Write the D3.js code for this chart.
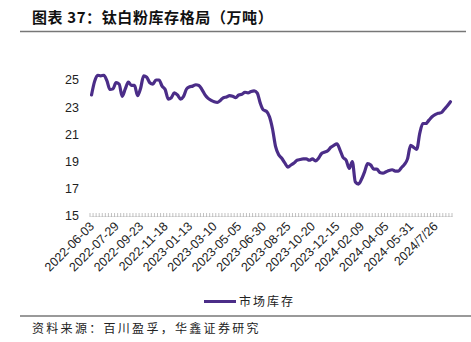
<!DOCTYPE html>
<html><head><meta charset="utf-8">
<script src="https://cdn.jsdelivr.net/npm/d3@7"></script>
<style>
html,body{margin:0;padding:0;background:#fff;}
svg{display:block;}
</style>
</head><body>
<svg id="c" width="471" height="342"></svg>
<script>
const title = "图表 37：钛白粉库存格局（万吨）";
const source = "资料来源：百川盈孚，华鑫证券研究";
const seriesName = "市场库存";
const startDate = "2022-06-03";
const weekCount = 118;
const tickLabels = ["2022-06-03","2022-07-29","2022-09-23","2022-11-18","2023-01-13","2023-03-10","2023-05-05","2023-06-30","2023-08-25","2023-10-20","2023-12-15","2024-02-09","2024-04-05","2024-05-31","2024/7/26"];
const yTicks = [15,17,19,21,23,25];
const inventory = [
23.9,24.9,25.35,25.3,25.35,24.95,24.3,24.35,24.8,24.7,
23.8,24.35,24.85,24.6,24.6,23.85,24.4,25.3,25.2,24.8,
24.7,25.0,25.0,24.55,24.3,23.6,23.7,24.05,23.9,23.6,
23.8,24.35,24.5,24.55,24.65,24.6,24.3,23.9,23.65,23.5,
23.4,23.35,23.5,23.7,23.75,23.85,23.8,23.7,23.9,23.95,
24.1,24.05,24.15,24.2,24.05,23.3,22.8,22.7,22.3,21.4,
20.1,19.5,19.25,18.9,18.6,18.75,18.9,19.1,19.15,19.2,
19.2,19.1,19.2,19.05,19.25,19.6,19.7,19.8,20.05,20.2,
20.3,19.85,19.3,19.1,18.5,19.0,17.5,17.35,17.7,18.25,
18.85,18.75,18.45,18.45,18.2,18.15,18.25,18.35,18.4,18.3,
18.3,18.55,18.8,19.2,20.2,20.05,19.9,21.1,21.8,21.8,
22.05,22.3,22.45,22.55,22.6,22.85,23.1,23.4
];

// weekly categories
const fmt = d3.timeFormat("%Y-%m-%d");
const t0 = d3.timeParse("%Y-%m-%d")(startDate);
const categories = d3.range(weekCount).map(i => fmt(d3.timeDay.offset(t0, i*7)));
const labelEvery = 8;

const svg = d3.select("#c");
const x = d3.scaleBand().domain(categories).range([90, 452]).padding(0);
const y = d3.scaleLinear().domain([15, 27]).range([216, 52.8]);
const purple = "#4b2d88";

// title
svg.append("text").attr("x", 32).attr("y", 23).text(title)
  .attr("font-family", "'Noto Sans CJK SC', sans-serif").attr("font-weight", "bold")
  .attr("font-size", 15).attr("fill", "#111").attr("letter-spacing", 0.6);
svg.append("line").attr("x1", 20).attr("x2", 466).attr("y1", 31.5).attr("y2", 31.5)
  .attr("stroke", "#777").attr("stroke-width", 1.5);

// y axis labels
svg.append("g").selectAll("text").data(yTicks).join("text")
  .attr("x", 79).attr("y", d => y(d)).attr("dy", "0.35em")
  .attr("text-anchor", "end").attr("font-family", "'Liberation Sans', Arial, sans-serif")
  .attr("font-size", 12.5).attr("fill", "#222").text(d => d);

// x axis ticks (category boundaries)
const xAxis = d3.axisBottom(x).tickSize(0).tickFormat("");
const gx = svg.append("g").attr("transform", "translate(0,216)").call(xAxis);
gx.select(".domain").attr("stroke", "#c8c8c8").attr("stroke-width", 0.6);
const bounds = d3.range(weekCount + 1).map(i => 90 + i * x.bandwidth());
svg.append("g").selectAll("line").data(bounds).join("line")
  .attr("x1", d => d).attr("x2", d => d).attr("y1", 213).attr("y2", 217)
  .attr("stroke", "#a8a8a8").attr("stroke-width", 0.7);

// x labels
const labIdx = tickLabels.map((l, k) => k * labelEvery);
svg.append("g").selectAll("text").data(labIdx).join("text")
  .attr("transform", (d) => `translate(${x(categories[d]) + x.bandwidth()/2 + 3.5},${227}) rotate(-45)`)
  .attr("text-anchor", "end").attr("font-family", "'Liberation Sans', Arial, sans-serif")
  .attr("font-size", 12.5).attr("fill", "#222").text((d, k) => tickLabels[k]);

// line
const line = d3.line()
  .x((d, i) => x(categories[i]) + x.bandwidth()/2)
  .y(d => y(d))
  .curve(d3.curveMonotoneX);
svg.append("path").datum(inventory).attr("d", line)
  .attr("fill", "none").attr("stroke", purple).attr("stroke-width", 3.2)
  .attr("stroke-linejoin", "round").attr("stroke-linecap", "round");

// legend
svg.append("line").attr("x1", 204).attr("x2", 236).attr("y1", 301.5).attr("y2", 301.5)
  .attr("stroke", purple).attr("stroke-width", 3);
svg.append("text").attr("x", 239).attr("y", 306).text(seriesName)
  .attr("font-family", "'Noto Sans CJK SC', sans-serif").attr("font-size", 12)
  .attr("letter-spacing", 2).attr("fill", "#222");

// footer
svg.append("line").attr("x1", 20).attr("x2", 471).attr("y1", 316).attr("y2", 316)
  .attr("stroke", "#777").attr("stroke-width", 1.5);
svg.append("text").attr("x", 32).attr("y", 333).text(source)
  .attr("font-family", "'Noto Sans CJK SC', sans-serif").attr("font-size", 12)
  .attr("letter-spacing", 2.3).attr("fill", "#222");
</script>
</body></html>
